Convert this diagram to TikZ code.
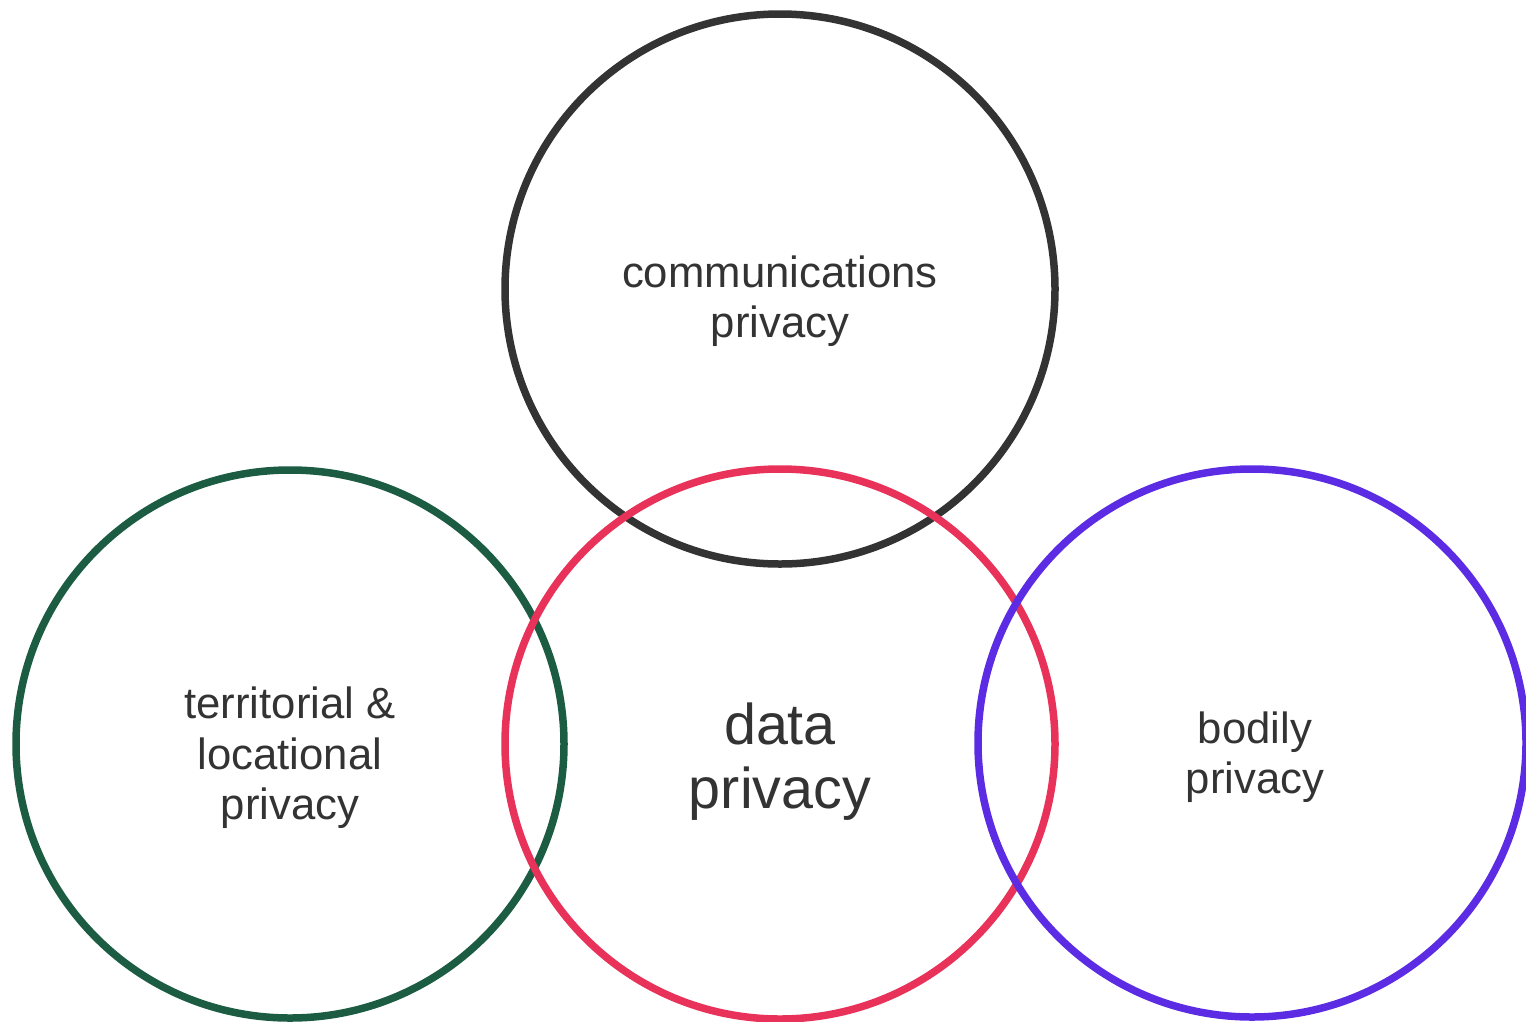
\documentclass[tikz,border=0pt]{standalone}
\usepackage{fontspec}
\setmainfont{Liberation Sans}
\definecolor{cblack}{HTML}{333333}
\definecolor{cgreen}{HTML}{1B5C43}
\definecolor{cred}{HTML}{E9325A}
\definecolor{cpurple}{HTML}{5B2CE3}
\definecolor{ctext}{HTML}{333333}
\begin{document}
\begin{tikzpicture}[x=1pt,y=-1pt,
  ring/.style={line width=7.5pt},
  lbl/.style={align=center,text=ctext,inner sep=0pt,font=\fontsize{43.7}{50.5}\selectfont},
  biglbl/.style={align=center,text=ctext,inner sep=0pt,font=\fontsize{57.5}{64}\selectfont}]
\useasboundingbox (0,0) rectangle (1526,1021);
\clip (0,0) rectangle (1526,1021);
\draw[ring,cblack] (780,289) circle (275);
\draw[ring,cgreen] (290,744) circle (274);
\draw[ring,cred] (780,744) circle (275);
\draw[ring,cpurple] (1252,743) circle (274);
\node[lbl] (comm) at (780,301) {communications\\privacy};
\node[lbl] (terr) at (290,758) {territorial \&\\locational\\privacy};
\node[biglbl] (data) at (780,762) {data\\privacy};
\node[lbl] (body) at (1255,757) {bodily\\privacy};
\end{tikzpicture}
\end{document}
